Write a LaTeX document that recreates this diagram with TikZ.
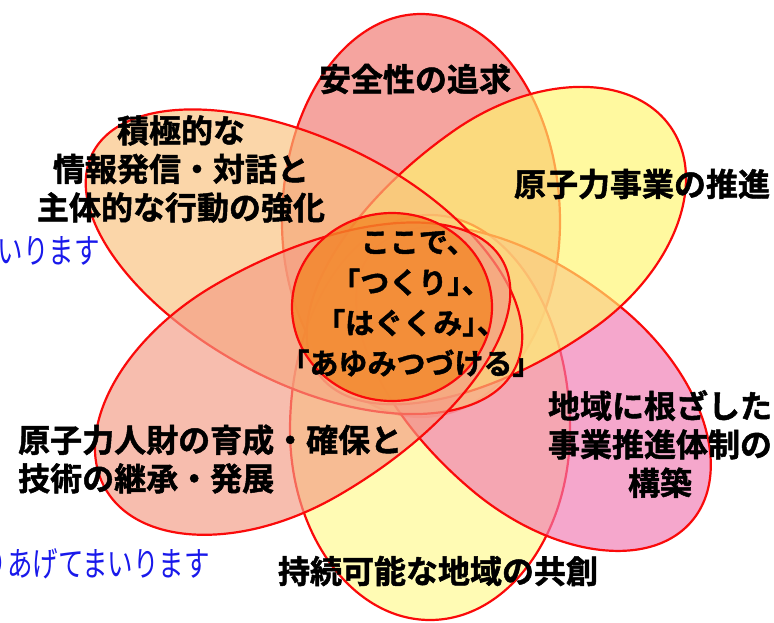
\documentclass[tikz,border=0pt]{standalone}
\usepackage{fontspec}
\newfontfamily\jp{Noto Sans CJK JP}
\newfontfamily\jpb{Noto Sans CJK JP Bold}[FakeBold=1.5]
\newfontfamily\jph{Noto Sans CJK JP Bold}[RawFeature=+halt,FakeBold=1.5]
\definecolor{cTop}{RGB}{240,116,109}
\definecolor{cUR}{RGB}{255,247,109}
\definecolor{cLR}{RGB}{241,121,177}
\definecolor{cBot}{RGB}{255,250,140}
\definecolor{cLL}{RGB}{244,155,132}
\definecolor{cUL}{RGB}{249,193,124}
\definecolor{cCen}{RGB}{243,135,40}
\definecolor{edge}{RGB}{250,10,10}
\definecolor{blu}{RGB}{25,25,235}
\newcommand\petal[7]{%
  \begin{scope}[shift={(#1,#2)},rotate=#3]
    \filldraw[petalstyle,fill=#7] (#4pt,0pt)
      arc[start angle=0,end angle=90,x radius=#4pt,y radius=#6pt]
      arc[start angle=90,end angle=270,x radius=#5pt,y radius=#6pt]
      arc[start angle=270,end angle=360,x radius=#4pt,y radius=#6pt] -- cycle;
  \end{scope}}
\tikzset{
  petalstyle/.style={draw=edge,line width=2.2pt,fill opacity=0.65},
  lab/.style={font={\jpb\fontsize{32pt}{38.5pt}\selectfont},align=center,inner sep=0pt,text=black},
  cenlab/.style={font={\jph\fontsize{29pt}{40.5pt}\selectfont},align=center,inner sep=0pt,text=black},
  bluelab/.style={font={\jp\fontsize{34pt}{38pt}\selectfont},inner sep=0pt,text=blu,xscale=0.75}
}
\begin{document}
\begin{tikzpicture}[x=1pt,y=-1pt]
\useasboundingbox (0,0) rectangle (774,622);
\clip (0,0) rectangle (774,622);
\fill[white] (0,0) rectangle (774,622);
% petals: x, y, angle, outer radius, inner radius, half width, colour
\petal{421}{222}{90}{208}{195}{139}{cTop}
\petal{430}{430}{-90}{190}{215}{140}{cBot}
\petal{548}{400}{-40}{188}{230}{118}{cLR}
\petal{523}{230}{35}{180}{250}{121}{cUR}
\petal{310}{264}{153}{244}{230}{121}{cUL}
\petal{277}{390}{210}{198}{260}{122}{cLL}
% centre
\filldraw[draw=edge,line width=2.2pt,fill=cCen,fill opacity=0.8] (392,307) ellipse [x radius=100pt, y radius=94pt];
% labels
\node[lab] (t1) at (415,79) {安全性の追求};
\node[lab] (t2) at (181,169) {積極的な\\情報発信・対話と\\主体的な行動の強化};
\node[lab] (t3) at (642,184) {原子力事業の推進};
\node[lab] (t4) at (660,444) {地域に根ざした\\事業推進体制の\\構築};
\node[lab,align=left,anchor=west] (t5) at (18,459) {原子力人財の育成・確保と\\技術の継承・発展};
\node[lab] (t6) at (438,571) {持続可能な地域の共創};
\node[cenlab] (c1) at (411,304) {ここで、\\「つくり」、\\「はぐくみ」、\\「あゆみつづける」};
\node[bluelab,anchor=east] (b1) at (100,251) {まいります};
\node[bluelab,anchor=east] (b2) at (210,564) {つくりあげてまいります};
\end{tikzpicture}
\end{document}
